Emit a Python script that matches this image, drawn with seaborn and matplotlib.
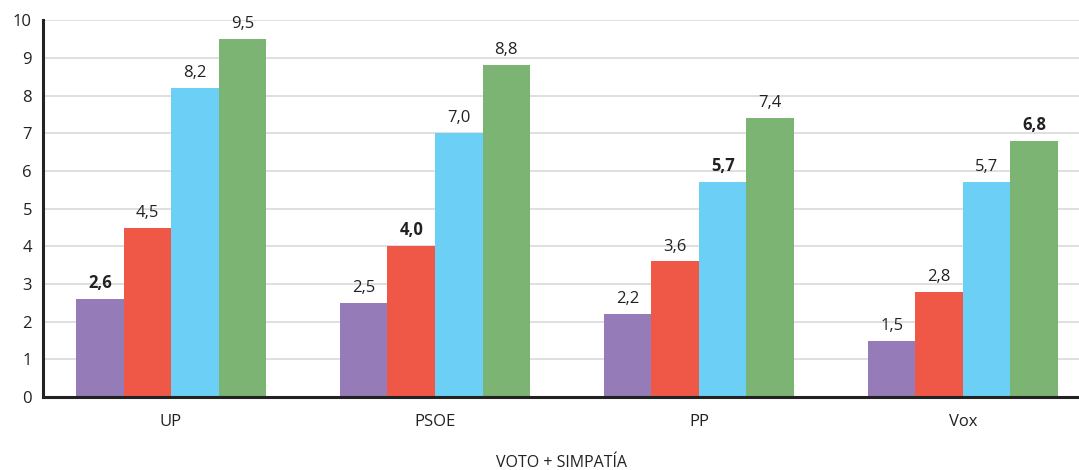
import matplotlib
matplotlib.use("Agg")
import matplotlib.pyplot as plt
import seaborn as sns
import pandas as pd

categories = ["UP", "PSOE", "PP", "Vox"]
series_names = ["Serie 1", "Serie 2", "Serie 3", "Serie 4"]
serie1 = [2.6, 2.5, 2.2, 1.5]
serie2 = [4.5, 4.0, 3.6, 2.8]
serie3 = [8.2, 7.0, 5.7, 5.7]
serie4 = [9.5, 8.8, 7.4, 6.8]
bold_labels = {("UP", "Serie 1"), ("PSOE", "Serie 2"), ("PP", "Serie 3"), ("Vox", "Serie 4")}
colors = ["#957BB7", "#EF5847", "#6BCFF6", "#7CB474"]

rows = []
for name, vals in zip(series_names, [serie1, serie2, serie3, serie4]):
    for c, v in zip(categories, vals):
        rows.append({"cat": c, "serie": name, "val": v})
df = pd.DataFrame(rows)

sns.set_theme(style="white")
plt.rcParams["font.family"] = ["Open Sans", "DejaVu Sans"]

fig = plt.figure(figsize=(10.79, 4.70), dpi=100)
ax = fig.add_axes([0.0399, 0.155, 0.9601, 0.802])
sns.barplot(data=df, x="cat", y="val", hue="serie", order=categories,
            hue_order=series_names, palette=colors, width=0.72, gap=0,
            saturation=1, legend=False, ax=ax, errorbar=None, linewidth=0)

for container, name in zip(ax.containers, series_names):
    for bar, c in zip(container, categories):
        h = bar.get_height()
        weight = "bold" if (c, name) in bold_labels else "normal"
        ax.annotate(f"{h:.1f}".replace(".", ","),
                    (bar.get_x() + bar.get_width() / 2, h),
                    xytext=(0, 5), textcoords="offset points",
                    ha="center", va="bottom", fontsize=12,
                    fontweight=weight, color="#222222")

ax.set_ylim(0, 10)
ax.set_yticks(range(0, 11))
ax.set_xlim(-0.485, 3.44)
ax.yaxis.grid(True, color="#D9D9D9", linewidth=1.2)
ax.set_axisbelow(True)
for s in ["top", "right"]:
    ax.spines[s].set_visible(False)
for s in ["left", "bottom"]:
    ax.spines[s].set_color("#222222")
    ax.spines[s].set_linewidth(2.2)
ax.tick_params(axis="both", length=0, labelsize=12, colors="#222222")
ax.tick_params(axis="x", pad=12)
ax.tick_params(axis="y", pad=8)
ax.set_ylabel("")
ax.set_xlabel("VOTO + SIMPATÍA", fontsize=11.5, color="#222222", labelpad=18)

fig.savefig("out.png", dpi=100, facecolor="white")
